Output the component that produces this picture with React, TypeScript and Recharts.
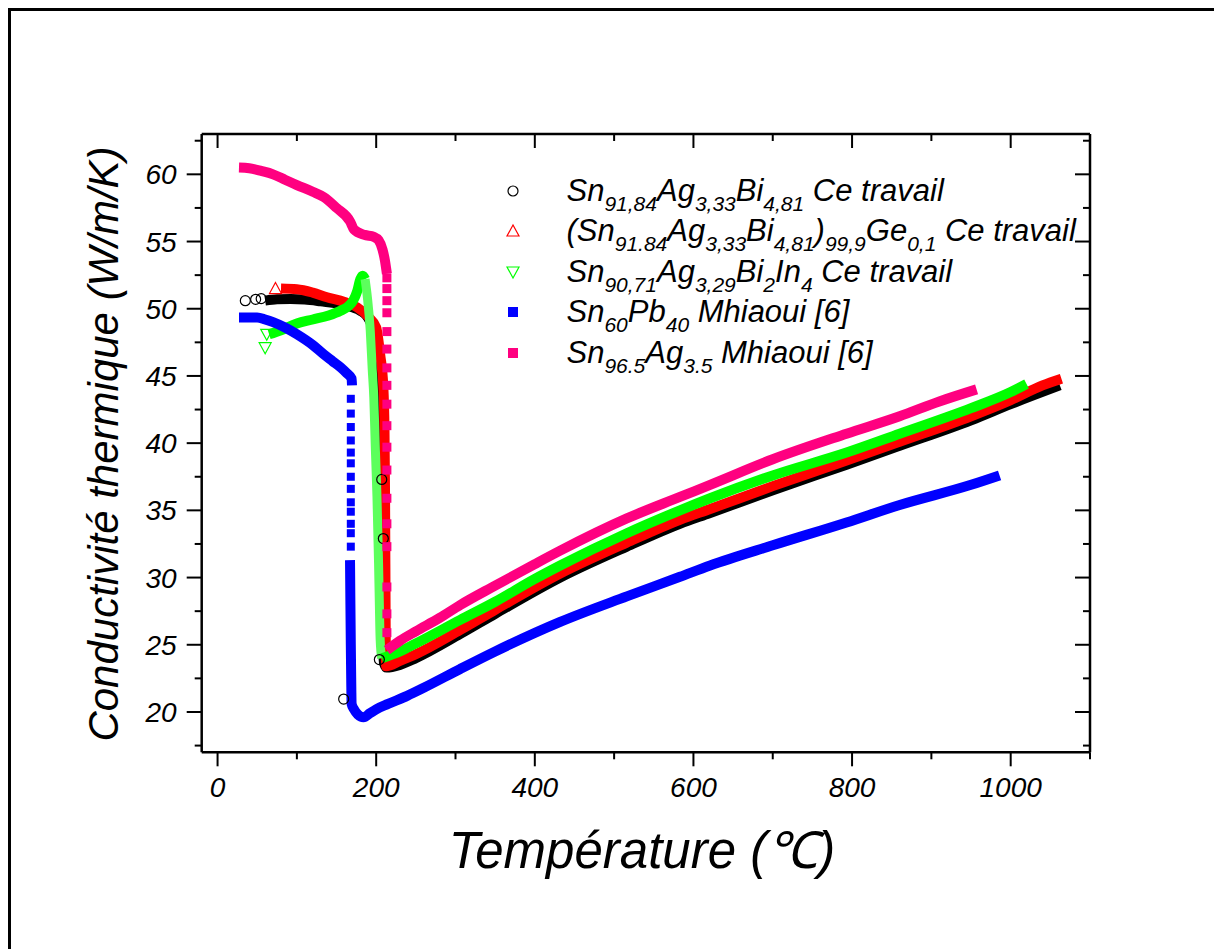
import React from 'react';
import { ComposedChart, Line, Scatter, XAxis, YAxis, Customized } from 'recharts';

// ---------- data ----------
const xTicks = [0, 100, 200, 300, 400, 500, 600, 700, 800, 900, 1000, 1100];
const xMajor = [0, 200, 400, 600, 800, 1000];
const yTicks = [17.5, 20, 22.5, 25, 27.5, 30, 32.5, 35, 37.5, 40, 42.5, 45, 47.5, 50, 52.5, 55, 57.5, 60, 62.5];
const yMajor = [20, 25, 30, 35, 40, 45, 50, 55, 60];

// Sn91,84Ag3,33Bi4,81 (black circles)
const blackCurve = [
  { x: 60, y: 50.6 }, { x: 75, y: 50.7 }, { x: 92, y: 50.72 }, { x: 110, y: 50.68 }, { x: 130, y: 50.55 },
  { x: 155, y: 50.35 }, { x: 170, y: 50.1 }, { x: 180, y: 49.85 }, { x: 190, y: 49.3 }, { x: 197, y: 48.2 },
  { x: 201, y: 45 }, { x: 204, y: 40 }, { x: 206, y: 35 }, { x: 207, y: 30 }, { x: 208, y: 26 }, { x: 210, y: 23.6 },
  { x: 213, y: 23.3 }, { x: 230, y: 23.5 }, { x: 250, y: 24.0 }, { x: 306, y: 25.8 }, { x: 350, y: 27.3 },
  { x: 432, y: 30.0 }, { x: 516, y: 32.3 }, { x: 583, y: 34.0 }, { x: 621, y: 34.8 }, { x: 700, y: 36.5 },
  { x: 793, y: 38.4 }, { x: 860, y: 39.8 }, { x: 950, y: 41.7 }, { x: 1000, y: 42.9 }, { x: 1062, y: 44.3 },
];
const blackMarks = [
  { x: 35, y: 50.6 }, { x: 48, y: 50.7 }, { x: 55, y: 50.75 }, { x: 159, y: 20.96 },
  { x: 207, y: 37.3 }, { x: 209, y: 32.9 }, { x: 204, y: 23.9 },
];

// (Sn91.84Ag3,33Bi4,81)99,9Ge0,1 (red triangles)
const redCurve = [
  { x: 80, y: 51.5 }, { x: 100, y: 51.45 }, { x: 120, y: 51.2 }, { x: 138, y: 50.85 }, { x: 160, y: 50.5 },
  { x: 176, y: 50.1 }, { x: 190, y: 49.4 }, { x: 200, y: 48.6 }, { x: 205, y: 46.6 }, { x: 209, y: 44.2 },
  { x: 210.5, y: 40.9 }, { x: 211.2, y: 36 }, { x: 211.6, y: 31 }, { x: 211.9, y: 27 }, { x: 212.2, y: 24 },
  { x: 212.5, y: 23.4 }, { x: 230, y: 23.8 }, { x: 250, y: 24.3 }, { x: 306, y: 26.1 }, { x: 350, y: 27.6 },
  { x: 432, y: 30.3 }, { x: 516, y: 32.6 }, { x: 583, y: 34.3 }, { x: 621, y: 35.1 }, { x: 700, y: 36.8 },
  { x: 793, y: 38.7 }, { x: 860, y: 40.1 }, { x: 950, y: 42.0 }, { x: 1000, y: 43.2 }, { x: 1040, y: 44.3 },
  { x: 1064, y: 44.8 },
];
const redMarks = [{ x: 73, y: 51.5 }];

// Sn90,71Ag3,29Bi2In4 (green inverted triangles)
const greenSolid = [
  { x: 65, y: 48.1 }, { x: 80, y: 48.4 }, { x: 100, y: 48.9 }, { x: 120, y: 49.2 }, { x: 140, y: 49.5 },
  { x: 155, y: 49.85 }, { x: 165, y: 50.2 }, { x: 171, y: 50.6 }, { x: 176, y: 51.3 }, { x: 180, y: 52.2 },
  { x: 183, y: 52.45 }, { x: 186, y: 52.2 },
];
const greenDrop = [
  { x: 186, y: 52.2 }, { x: 189, y: 50.8 }, { x: 192.5, y: 48.4 }, { x: 195, y: 45.5 }, { x: 197, y: 43.4 },
  { x: 199, y: 39.5 }, { x: 201, y: 36 }, { x: 203, y: 31.06 }, { x: 204, y: 28 }, { x: 205, y: 25.4 },
  { x: 207, y: 24.0 },
];
const greenLiquid = [
  { x: 207, y: 24.0 }, { x: 230, y: 24.5 }, { x: 250, y: 25.1 }, { x: 306, y: 26.85 }, { x: 350, y: 28.2 },
  { x: 400, y: 29.9 }, { x: 432, y: 30.9 }, { x: 516, y: 33.3 }, { x: 583, y: 35.0 }, { x: 621, y: 35.9 },
  { x: 700, y: 37.6 }, { x: 793, y: 39.3 }, { x: 860, y: 40.7 }, { x: 950, y: 42.6 }, { x: 1000, y: 43.8 },
  { x: 1020, y: 44.4 },
];
const greenMarks = [{ x: 60, y: 47.1 }, { x: 62, y: 48.1 }];

// Sn60Pb40 Mhiaoui (blue squares)
const blueSolid = [
  { x: 27, y: 49.35 }, { x: 50, y: 49.35 }, { x: 60, y: 49.2 }, { x: 70, y: 49.0 }, { x: 85, y: 48.6 },
  { x: 100, y: 48.1 }, { x: 120, y: 47.3 }, { x: 134, y: 46.6 }, { x: 145, y: 46.1 }, { x: 155, y: 45.65 },
  { x: 163, y: 45.2 }, { x: 169, y: 44.8 }, { x: 169.5, y: 44.3 },
];
const blueDrop = [43.3, 42.2, 41.2, 40.2, 39.3, 38.5, 37.5, 36.6, 35.6, 34.9, 34.0, 33.3, 32.3].map((v) => ({ x: 168, y: v }));
const blueLiquid = [
  { x: 167, y: 31.3 }, { x: 167.5, y: 28 }, { x: 168, y: 25 }, { x: 168.5, y: 22.5 }, { x: 169, y: 20.6 },
  { x: 172, y: 20.2 }, { x: 177, y: 19.8 }, { x: 184, y: 19.6 }, { x: 192, y: 19.9 }, { x: 200, y: 20.2 },
  { x: 215, y: 20.6 }, { x: 239, y: 21.2 }, { x: 260, y: 21.8 }, { x: 306, y: 23.2 }, { x: 350, y: 24.5 },
  { x: 432, y: 26.7 }, { x: 516, y: 28.6 }, { x: 583, y: 30.06 }, { x: 621, y: 30.9 }, { x: 700, y: 32.4 },
  { x: 793, y: 34.1 }, { x: 860, y: 35.4 }, { x: 950, y: 36.9 }, { x: 986, y: 37.6 },
];

// Sn96.5Ag3.5 Mhiaoui (pink squares)
const pinkSolid = [
  { x: 27, y: 60.5 }, { x: 40, y: 60.45 }, { x: 55, y: 60.25 }, { x: 70, y: 60.0 }, { x: 85, y: 59.6 },
  { x: 100, y: 59.2 }, { x: 120, y: 58.7 }, { x: 134, y: 58.3 }, { x: 150, y: 57.5 }, { x: 167, y: 56.5 },
  { x: 172, y: 55.9 }, { x: 185, y: 55.5 }, { x: 197, y: 55.35 }, { x: 203, y: 55.1 }, { x: 208, y: 54.4 },
  { x: 211, y: 53.6 }, { x: 213.5, y: 52.6 },
];
const pinkDrop = [52.3, 51.5, 50.6, 49.7, 48.3, 47.0, 45.6, 44.3, 42.9, 41.3, 39.7, 38.0, 35.9, 34.0, 32.3, 29.3, 27.3, 25.9].map((v) => ({ x: 213.5, y: v }));
const pinkLiquid = [
  { x: 213.5, y: 24.6 }, { x: 230, y: 25.3 }, { x: 250, y: 26.0 }, { x: 280, y: 27.0 }, { x: 306, y: 27.96 },
  { x: 350, y: 29.4 }, { x: 400, y: 31.0 }, { x: 432, y: 32.0 }, { x: 516, y: 34.4 }, { x: 583, y: 36.0 },
  { x: 621, y: 36.9 }, { x: 700, y: 38.8 }, { x: 793, y: 40.7 }, { x: 860, y: 42.0 }, { x: 910, y: 43.1 },
  { x: 957, y: 44.0 },
];

// legend labels: [text, isSubscript]
const legendLabels: [string, boolean][][] = [
  [['Sn', false], ['91,84', true], ['Ag', false], ['3,33', true], ['Bi', false], ['4,81', true], [' Ce travail', false]],
  [['(Sn', false], ['91.84', true], ['Ag', false], ['3,33', true], ['Bi', false], ['4,81', true], [')', false], ['99,9', true], ['Ge', false], ['0,1', true], [' Ce travail', false]],
  [['Sn', false], ['90,71', true], ['Ag', false], ['3,29', true], ['Bi', false], ['2', true], ['In', false], ['4', true], [' Ce travail', false]],
  [['Sn', false], ['60', true], ['Pb', false], ['40', true], [' Mhiaoui [6]', false]],
  [['Sn', false], ['96.5', true], ['Ag', false], ['3.5', true], [' Mhiaoui [6]', false]],
];
const legendSymbols = ['circle', 'triangle', 'triangleDown', 'squareBlue', 'squarePink'];

const xTitle = 'Température (℃)';
const yTitle = 'Conductivité thermique (W/m/K)';

// ---------- styling ----------
const FONT = '"Liberation Sans", Arial, Helvetica, sans-serif';
const PINK = '#FF0080';
const BLUE = '#0000FF';
const GREEN = '#00FF00';
const RED = '#FF0000';
const BAND = 10;

const W = 1214;
const H = 941;

const Circle = (p: any) => <circle cx={p.cx} cy={p.cy} r={5} fill="none" stroke="#000" strokeWidth={1.2} />;
const TriUp = (p: any) => (
  <polygon points={`${p.cx},${p.cy - 6} ${p.cx - 6},${p.cy + 5} ${p.cx + 6},${p.cy + 5}`} fill="none" stroke={RED} strokeWidth={1.2} />
);
const TriDown = (p: any) => (
  <polygon points={`${p.cx},${p.cy + 6} ${p.cx - 6},${p.cy - 5} ${p.cx + 6},${p.cy - 5}`} fill="none" stroke={GREEN} strokeWidth={1.2} />
);
const SqBlue = (p: any) => <rect x={p.cx - 4} y={p.cy - 4} width={8} height={8} fill={BLUE} />;
const SqPink = (p: any) => <rect x={p.cx - 4.5} y={p.cy - 4.5} width={9} height={9} fill={PINK} />;

const tickText = { fontFamily: FONT, fontStyle: 'italic', fontSize: 28, fill: '#000' } as const;

const LeftTick = (p: any) => {
  const v = p.payload.value;
  const major = yMajor.includes(v);
  return (
    <g>
      <line x1={p.x} x2={p.x - (major ? 15 : 7)} y1={p.y} y2={p.y} stroke="#000" strokeWidth={2} />
      {major && (
        <text x={p.x - 25} y={p.y} dy="0.36em" textAnchor="end" style={tickText}>{v}</text>
      )}
    </g>
  );
};
const RightTick = (p: any) => {
  const major = yMajor.includes(p.payload.value);
  return <line x1={p.x} x2={p.x - (major ? 15 : 7)} y1={p.y} y2={p.y} stroke="#000" strokeWidth={2} />;
};
const BottomTick = (p: any) => {
  const v = p.payload.value;
  const major = xMajor.includes(v);
  return (
    <g>
      <line x1={p.x} x2={p.x} y1={p.y} y2={p.y + (major ? 14 : 7)} stroke="#000" strokeWidth={2} />
      {major && (
        <text x={p.x} y={p.y + 45} textAnchor="middle" style={tickText}>{v}</text>
      )}
    </g>
  );
};
const TopTick = (p: any) => {
  const major = xMajor.includes(p.payload.value);
  return <line x1={p.x} x2={p.x} y1={p.y} y2={p.y + (major ? 14 : 7)} stroke="#000" strokeWidth={2} />;
};

const LegendSymbol = ({ kind, cx, cy }: { kind: string; cx: number; cy: number }) => {
  if (kind === 'circle') return <Circle cx={cx} cy={cy} />;
  if (kind === 'triangle') return <TriUp cx={cx} cy={cy} />;
  if (kind === 'triangleDown') return <TriDown cx={cx} cy={cy} />;
  if (kind === 'squareBlue') return <rect x={cx - 5} y={cy - 5} width={10} height={10} fill={BLUE} />;
  return <rect x={cx - 5} y={cy - 5} width={10} height={10} fill={PINK} />;
};

const Decorations = () => {
  const rowY = [183, 223, 264, 304, 345];
  return (
    <g>
      {legendLabels.map((segs, i) => {
        let shifted = false;
        return (
          <g key={i}>
            <LegendSymbol kind={legendSymbols[i]} cx={505} cy={rowY[i]} />
            <text x={558.5} y={rowY[i] + 10} style={{ fontFamily: FONT, fontStyle: 'italic', fontSize: 31, fill: '#000' }}>
              {segs.map(([t, sub], j) => {
                let dy = 0;
                if (sub && !shifted) { dy = 10; shifted = true; }
                else if (!sub && shifted) { dy = -10; shifted = false; }
                return (
                  <tspan key={j} dy={dy} fontSize={sub ? 21 : 31} style={{ whiteSpace: 'pre' }}>{t}</tspan>
                );
              })}
            </text>
          </g>
        );
      })}
      <text
        x={109.5}
        y={436}
        transform="rotate(-90, 109.5, 436)"
        textAnchor="middle"
        style={{ fontFamily: FONT, fontStyle: 'italic', fontSize: 42, fill: '#000' }}
      >
        {yTitle}
      </text>
      <text
        x={634}
        y={860.3}
        textAnchor="middle"
        style={{ fontFamily: FONT, fontStyle: 'italic', fontSize: 51, fill: '#000' }}
      >
        {xTitle}
      </text>
    </g>
  );
};

const axisLine = { stroke: '#000', strokeWidth: 2.5 };
const band = (data: any[], color: string, width = BAND, curve: any = 'monotoneX') => (
  <Line
    xAxisId="b" yAxisId="l" data={data} dataKey="y" type={curve} stroke={color} strokeWidth={width}
    dot={false} activeDot={false} isAnimationActive={false} strokeLinejoin="round"
  />
);

export default function App() {
  return (
    <div style={{ position: 'relative', width: W, height: H, overflow: 'hidden', background: '#fff' }}>
      <div
        style={{
          position: 'absolute', left: 0, top: 0, width: W + 50, height: H + 50,
          borderTop: '3px solid #000', borderLeft: '3px solid #000', boxSizing: 'border-box',
        }}
      />
      <div style={{ position: 'absolute', left: 0, top: 0 }}>
        <ComposedChart width={W} height={H} margin={{ top: 125, right: 131, bottom: 195.7, left: 192.7 }}>
          <XAxis
            xAxisId="b" type="number" dataKey="x" domain={[-20, 1100]} ticks={xTicks} interval={0}
            orientation="bottom" height={1} tickSize={0} tickMargin={0} tickLine={false}
            axisLine={axisLine} tick={<BottomTick />} allowDataOverflow
          />
          <XAxis
            xAxisId="t" type="number" dataKey="x" domain={[-20, 1100]} ticks={xTicks} interval={0}
            orientation="top" height={1} tickSize={0} tickMargin={0} tickLine={false}
            axisLine={axisLine} tick={<TopTick />} allowDataOverflow
          />
          <YAxis
            yAxisId="l" type="number" dataKey="y" domain={[17, 63]} ticks={yTicks} interval={0}
            orientation="left" width={1} tickSize={0} tickMargin={0} tickLine={false}
            axisLine={axisLine} tick={<LeftTick />} allowDataOverflow
          />
          <YAxis
            yAxisId="r" type="number" dataKey="y" domain={[17, 63]} ticks={yTicks} interval={0}
            orientation="right" width={1} tickSize={0} tickMargin={0} tickLine={false}
            axisLine={axisLine} tick={<RightTick />} allowDataOverflow
          />

          {band(blackCurve, '#000')}
          {band(redCurve, RED)}
          <Scatter xAxisId="b" yAxisId="l" data={redMarks} dataKey="y" shape={TriUp} isAnimationActive={false} />
          {band(greenSolid, GREEN)}
          {band(greenDrop, '#5CFF5C', 9)}
          {band(greenLiquid, GREEN)}
          <Scatter xAxisId="b" yAxisId="l" data={greenMarks} dataKey="y" shape={TriDown} isAnimationActive={false} />
          <Scatter xAxisId="b" yAxisId="l" data={blackMarks} dataKey="y" shape={Circle} isAnimationActive={false} />
          {band(blueSolid, BLUE)}
          <Scatter xAxisId="b" yAxisId="l" data={blueDrop} dataKey="y" shape={SqBlue} isAnimationActive={false} />
          {band(blueLiquid, BLUE)}
          {band(pinkSolid, PINK)}
          <Scatter xAxisId="b" yAxisId="l" data={pinkDrop} dataKey="y" shape={SqPink} isAnimationActive={false} />
          {band(pinkLiquid, PINK)}

          <Customized component={Decorations} />
        </ComposedChart>
      </div>
    </div>
  );
}
